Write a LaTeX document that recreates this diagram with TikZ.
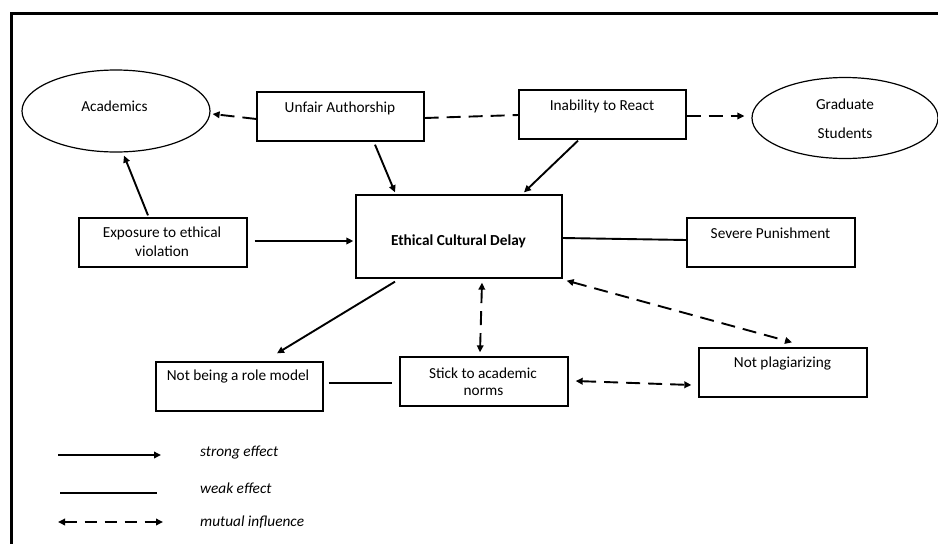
\documentclass[tikz,border=0pt]{standalone}
\usepackage{fontspec}
\setmainfont{Carlito}
\usetikzlibrary{arrows.meta,shapes.geometric}
\begin{document}
\begin{tikzpicture}[x=1pt,y=-1pt,
  box/.style={draw, line width=1.3pt, inner sep=0pt, minimum width=167pt, minimum height=49pt},
  oval/.style={draw, ellipse, line width=1.2pt, inner sep=0pt},
  txt/.style={inner sep=0pt, font=\fontsize{15.3}{18}\selectfont},
  strong/.style={line width=1.9pt, -{Triangle[length=7pt,width=6.5pt]}},
  weak/.style={line width=1.9pt},
  dsh/.style={line width=1.9pt, dash pattern=on 14pt off 8pt},
  mutual/.style={dsh, {Triangle[length=7pt,width=6.5pt]}-{Triangle[length=7pt,width=6.5pt]}},
  oneway/.style={dsh, -{Triangle[length=7pt,width=6.5pt]}}
]
\useasboundingbox (0,0) rectangle (938,544);
\fill[white] (0,0) rectangle (938,544);
% outer frame (open at right and bottom)
\draw[line width=3pt] (11.5,544) -- (11.5,13) -- (938,13);

% nodes
\node[oval, minimum width=188pt, minimum height=82pt] (acad) at (116,111) {};
\node[txt] (acadt) at (114.5,106) {Academics};
\node[box, minimum width=167pt] (ua) at (340.5,116.5) {};
\node[txt] (uat) at (340,108) {Unfair Authorship};
\node[box] (ir) at (602.5,114.5) {};
\node[txt] (irt) at (602,106) {Inability to React};
\node[oval, minimum width=186pt, minimum height=81pt] (grad) at (845,118) {};
\node[txt] (gradt1) at (845,104) {Graduate};
\node[txt] (gradt2) at (845,133) {Students};
\node[box, minimum width=168pt] (ex) at (163,242.5) {};
\node[txt] (ext1) at (162,233) {Exposure to ethical};
\node[txt] (ext2) at (162,251) {violation};
\node[box, minimum width=206pt, minimum height=83pt] (ecd) at (459,236.5) {};
\node[txt, font=\fontsize{15.3}{18}\selectfont\bfseries] (ecdt) at (458.5,241) {Ethical Cultural Delay};
\node[box, minimum width=168pt] (sp) at (771,242.5) {};
\node[txt] (spt) at (770.5,233) {Severe Punishment};
\node[box] (nrm) at (239.5,386.5) {};
\node[txt] (nrmt) at (238,376) {Not being a role model};
\node[box, minimum width=168pt] (stick) at (484,381.5) {};
\node[txt] (stickt1) at (483,373) {Stick to academic};
\node[txt] (stickt2) at (483.5,392) {norms};
\node[box, minimum width=168pt] (np) at (783,372.5) {};
\node[txt] (npt) at (782.5,363) {Not plagiarizing};

% connectors
\draw[oneway] ([yshift=-2.5pt]ua.west) -- ([xshift=2pt,yshift=-3pt]acad.east);
\draw[dsh] ([yshift=-1.5pt]ua.east) -- ([yshift=-0.5pt]ir.west);
\draw[oneway] ([yshift=-1.5pt]ir.east) -- ([xshift=-7pt,yshift=2pt]grad.west);
\draw[strong] ([xshift=34.5pt,yshift=-3pt]ua.south) -- ([xshift=-64pt,yshift=2pt]ecd.north);
\draw[strong] ([xshift=-24.5pt,yshift=-1pt]ir.south) -- ([xshift=65pt,yshift=2pt]ecd.north);
\draw[strong] ([xshift=-15pt,yshift=2pt]ex.north) -- ([xshift=8pt,yshift=-3pt]acad.south);
\draw[strong] ([xshift=7pt,yshift=1.5pt]ex.east) -- ([xshift=-2pt,yshift=-4.5pt]ecd.west);
\draw[weak] ([yshift=-1.5pt]ecd.east) -- ([yshift=2.5pt]sp.west);
\draw[strong] ([xshift=-64pt,yshift=-3pt]ecd.south) -- ([xshift=37.5pt,yshift=8pt]nrm.north);
\draw[mutual] ([xshift=23pt,yshift=-4pt]ecd.south) -- ([xshift=-4pt,yshift=4pt]stick.north);
\draw[mutual] ([xshift=4pt,yshift=-2pt]ecd.south east) -- ([xshift=9pt,yshift=5pt]np.north);
\draw[mutual] ([xshift=7pt,yshift=0.5pt]stick.east) -- ([xshift=-7pt,yshift=-12.5pt]np.west);
\draw[weak] ([xshift=5pt,yshift=3.5pt]nrm.east) -- ([xshift=-7pt,yshift=-1.5pt]stick.west);

% legend
\coordinate (l1a) at (58,455);
\coordinate (l1b) at (161,455);
\coordinate (l2a) at (60,493);
\coordinate (l2b) at (157,493);
\coordinate (l3a) at (58,522);
\coordinate (l3b) at (163,522);
\draw[strong] (l1a) -- (l1b);
\draw[weak] (l2a) -- (l2b);
\draw[dsh, dash pattern=on 12pt off 8pt, {Triangle[length=7pt,width=6.5pt]}-{Triangle[length=7pt,width=6.5pt]}] (l3a) -- (l3b);
\node[txt, anchor=west, font=\fontsize{15.3}{18}\selectfont\itshape] (lg1) at (200,453) {strong effect};
\node[txt, anchor=west, font=\fontsize{15.3}{18}\selectfont\itshape] (lg2) at (200,488) {weak effect};
\node[txt, anchor=west, font=\fontsize{15.3}{18}\selectfont\itshape] (lg3) at (200,522) {mutual influence};
\end{tikzpicture}
\end{document}
